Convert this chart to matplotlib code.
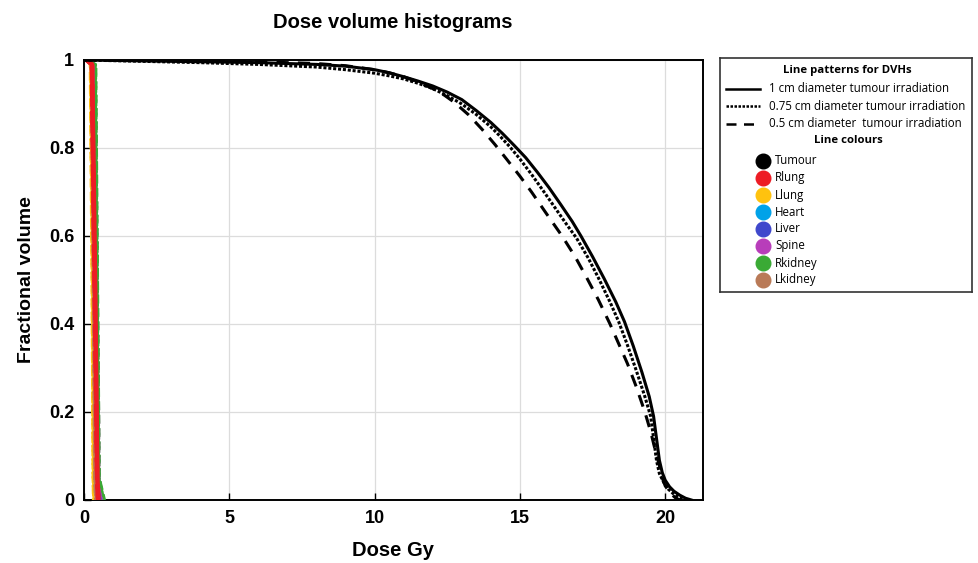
import matplotlib
matplotlib.use('Agg')
import matplotlib.pyplot as plt
import numpy as np
from matplotlib.lines import Line2D

# tumour DVHs for the three irradiation field sizes
dose_1cm = [0, 2, 4, 6, 8, 9, 10, 10.5, 11, 11.5, 12, 12.5, 13, 13.5, 14, 14.4, 14.8, 15.2,
            15.6, 16, 16.4, 16.8, 17.1, 17.5, 17.9, 18.3, 18.6, 18.9, 19.2, 19.45, 19.6,
            19.7, 19.8, 19.9, 20.0, 20.15, 20.3, 20.5, 20.7, 20.9]
vol_1cm = [1.0, 0.998, 0.996, 0.994, 0.99, 0.986, 0.978, 0.971, 0.962, 0.952, 0.941, 0.927,
           0.91, 0.885, 0.858, 0.833, 0.806, 0.778, 0.745, 0.71, 0.672, 0.633, 0.60, 0.553,
           0.503, 0.45, 0.405, 0.35, 0.29, 0.235, 0.19, 0.14, 0.09, 0.062, 0.045, 0.03, 0.02,
           0.011, 0.004, 0.0]

dose_075cm = [0, 2, 4, 6, 8, 9, 10, 10.5, 11, 11.5, 12, 12.5, 13, 13.5, 14, 14.3, 14.65,
              15.0, 15.4, 15.8, 16.2, 16.6, 16.95, 17.35, 17.7, 18.1, 18.4, 18.7, 19.0,
              19.3, 19.5, 19.6, 19.7, 19.8, 19.95, 20.1, 20.3, 20.5, 20.7]
vol_075cm = [1.0, 0.997, 0.994, 0.99, 0.984, 0.978, 0.97, 0.964, 0.957, 0.947, 0.935, 0.919,
             0.90, 0.876, 0.848, 0.828, 0.803, 0.775, 0.74, 0.703, 0.665, 0.627, 0.595, 0.55,
             0.505, 0.45, 0.405, 0.352, 0.295, 0.235, 0.19, 0.14, 0.09, 0.06, 0.04, 0.025,
             0.013, 0.005, 0.0]

dose_05cm = [0, 2, 4, 6, 8, 9, 10, 10.5, 11, 11.5, 12, 12.4, 12.76, 13.24, 13.69, 14.14,
             14.55, 15.0, 15.4, 15.9, 16.45, 16.9, 17.3, 17.7, 18.1, 18.4, 18.7, 19.0, 19.3,
             19.5, 19.65, 19.8, 19.9, 20.0, 20.2, 20.35, 20.5]
vol_05cm = [1.0, 0.999, 0.998, 0.996, 0.992, 0.987, 0.978, 0.971, 0.962, 0.95, 0.935, 0.92,
            0.903, 0.875, 0.843, 0.808, 0.774, 0.736, 0.70, 0.652, 0.60, 0.553, 0.505, 0.455,
            0.40, 0.355, 0.31, 0.258, 0.20, 0.155, 0.115, 0.078, 0.05, 0.032, 0.014, 0.005,
            0.0]

# organs at risk (all receive well under 1 Gy)
organ_vol = [1.0, 0.99, 0.5, 0.05, 0.0]
organ_names = ['Llung', 'Lkidney', 'Heart', 'Liver', 'Spine', 'Rkidney', 'Rlung']
organ_dose_1cm = {'Llung':   [0.08, 0.22, 0.28, 0.31, 0.33],
                  'Lkidney': [0.08, 0.25, 0.32, 0.37, 0.40],
                  'Heart':   [0.10, 0.30, 0.40, 0.47, 0.52],
                  'Liver':   [0.12, 0.36, 0.43, 0.50, 0.58],
                  'Spine':   [0.12, 0.38, 0.45, 0.52, 0.65],
                  'Rkidney': [0.12, 0.40, 0.46, 0.52, 0.70],
                  'Rlung':   [0.10, 0.28, 0.38, 0.46, 0.50]}
organ_dose_075cm = {'Llung':   [0.07, 0.21, 0.27, 0.30, 0.32],
                    'Lkidney': [0.08, 0.24, 0.31, 0.36, 0.39],
                    'Heart':   [0.10, 0.31, 0.41, 0.48, 0.53],
                    'Liver':   [0.12, 0.37, 0.44, 0.51, 0.60],
                    'Spine':   [0.12, 0.39, 0.46, 0.53, 0.66],
                    'Rkidney': [0.12, 0.41, 0.47, 0.53, 0.68],
                    'Rlung':   [0.10, 0.27, 0.37, 0.45, 0.49]}
organ_dose_05cm = {'Llung':   [0.07, 0.20, 0.26, 0.30, 0.31],
                   'Lkidney': [0.07, 0.24, 0.30, 0.35, 0.38],
                   'Heart':   [0.10, 0.32, 0.42, 0.49, 0.54],
                   'Liver':   [0.12, 0.38, 0.45, 0.52, 0.62],
                   'Spine':   [0.12, 0.40, 0.47, 0.54, 0.67],
                   'Rkidney': [0.12, 0.42, 0.48, 0.54, 0.72],
                   'Rlung':   [0.09, 0.27, 0.36, 0.45, 0.48]}

legend_organs = ['Tumour', 'Rlung', 'Llung', 'Heart', 'Liver', 'Spine', 'Rkidney', 'Lkidney']
colours = {'Tumour': '#000000', 'Rlung': '#ed1c24', 'Llung': '#ffc20e', 'Heart': '#00a2e8',
           'Liver': '#3f48cc', 'Spine': '#b83dba', 'Rkidney': '#3aaa35', 'Lkidney': '#b97a57'}
pattern_labels = ['1 cm diameter tumour irradiation',
                  '0.75 cm diameter tumour irradiation',
                  '0.5 cm diameter  tumour irradiation']

W, H = 979, 563
fig = plt.figure(figsize=(W / 100, H / 100), dpi=100)
ax = fig.add_axes([84 / W, 1 - 500 / H, (703 - 84) / W, (500 - 60) / H])

lfont = 'Liberation Sans'

# organ curves
for name in organ_names:
    lw = 3.2 if name == 'Rlung' else 1.6
    ax.plot(organ_dose_05cm[name], organ_vol, color=colours[name], lw=lw, ls=(0, (4, 2)), zorder=3)
    ax.plot(organ_dose_075cm[name], organ_vol, color=colours[name], lw=lw, ls=(0, (1, 1)), zorder=3)
    ax.plot(organ_dose_1cm[name], organ_vol, color=colours[name], lw=lw, ls='-', zorder=3)

# tumour curves
ax.plot(dose_1cm, vol_1cm, color='k', lw=2.2, ls='-', zorder=4)
ax.plot(dose_075cm, vol_075cm, color='k', lw=2.2, ls=(0, (1, 0.6)), zorder=4)
ax.plot(dose_05cm, vol_05cm, color='k', lw=2.2, ls=(0, (4, 3)), zorder=4)

ax.set_xlim(0, 21.3)
ax.set_ylim(0, 1)
ax.set_xticks([0, 5, 10, 15, 20])
ax.set_yticks([0, 0.2, 0.4, 0.6, 0.8, 1])
ax.set_yticklabels(['0', '0.2', '0.4', '0.6', '0.8', '1'])
ax.grid(True, color='#dcdcdc', lw=0.9)
ax.set_axisbelow(True)
ax.tick_params(direction='in', length=5, width=1, pad=7, labelsize=13)
for lab in ax.get_xticklabels() + ax.get_yticklabels():
    lab.set_fontweight('bold')
    lab.set_family(lfont)
for sp in ax.spines.values():
    sp.set_linewidth(1.4)
ax.set_xlabel('Dose Gy', fontsize=14.5, fontweight='bold', family=lfont, labelpad=10)
ax.set_ylabel('Fractional volume', fontsize=14, fontweight='bold', family=lfont, labelpad=10)
fig.text(393 / W, 1 - 22 / H, 'Dose volume histograms', ha='center', va='center',
         fontsize=14.5, fontweight='bold', family=lfont)

# legend box drawn in pixel units
lg = fig.add_axes([720 / W, 1 - 292 / H, (972 - 720) / W, (292 - 58) / H])
lg.set_xlim(720, 972)
lg.set_ylim(292, 58)
lg.set_xticks([])
lg.set_yticks([])
for sp in lg.spines.values():
    sp.set_linewidth(1.2)
    sp.set_color('#333333')
tfont = 'Open Sans'
lg.text(847, 71, 'Line patterns for DVHs', ha='center', va='center', fontsize=8.2,
        fontweight='bold', family=tfont)
styles = ['-', (0, (1, 0.6)), (0, (4, 3))]
for i, (lab, st) in enumerate(zip(pattern_labels, styles)):
    y = 89 + i * 17.5
    lg.add_line(Line2D([726, 760], [y, y], color='k', lw=1.8, ls=st))
    lg.text(769, y, lab, ha='left', va='center', fontsize=8.3, family=tfont)
lg.text(848, 141, 'Line colours', ha='center', va='center', fontsize=8.2,
        fontweight='bold', family=tfont)
for i, name in enumerate(legend_organs):
    y = 161 + i * 17
    lg.plot([763], [y], 'o', ms=10.5, color=colours[name])
    lg.text(775, y, name, ha='left', va='center', fontsize=8.3, family=tfont)

fig.savefig('out.png', dpi=100)
